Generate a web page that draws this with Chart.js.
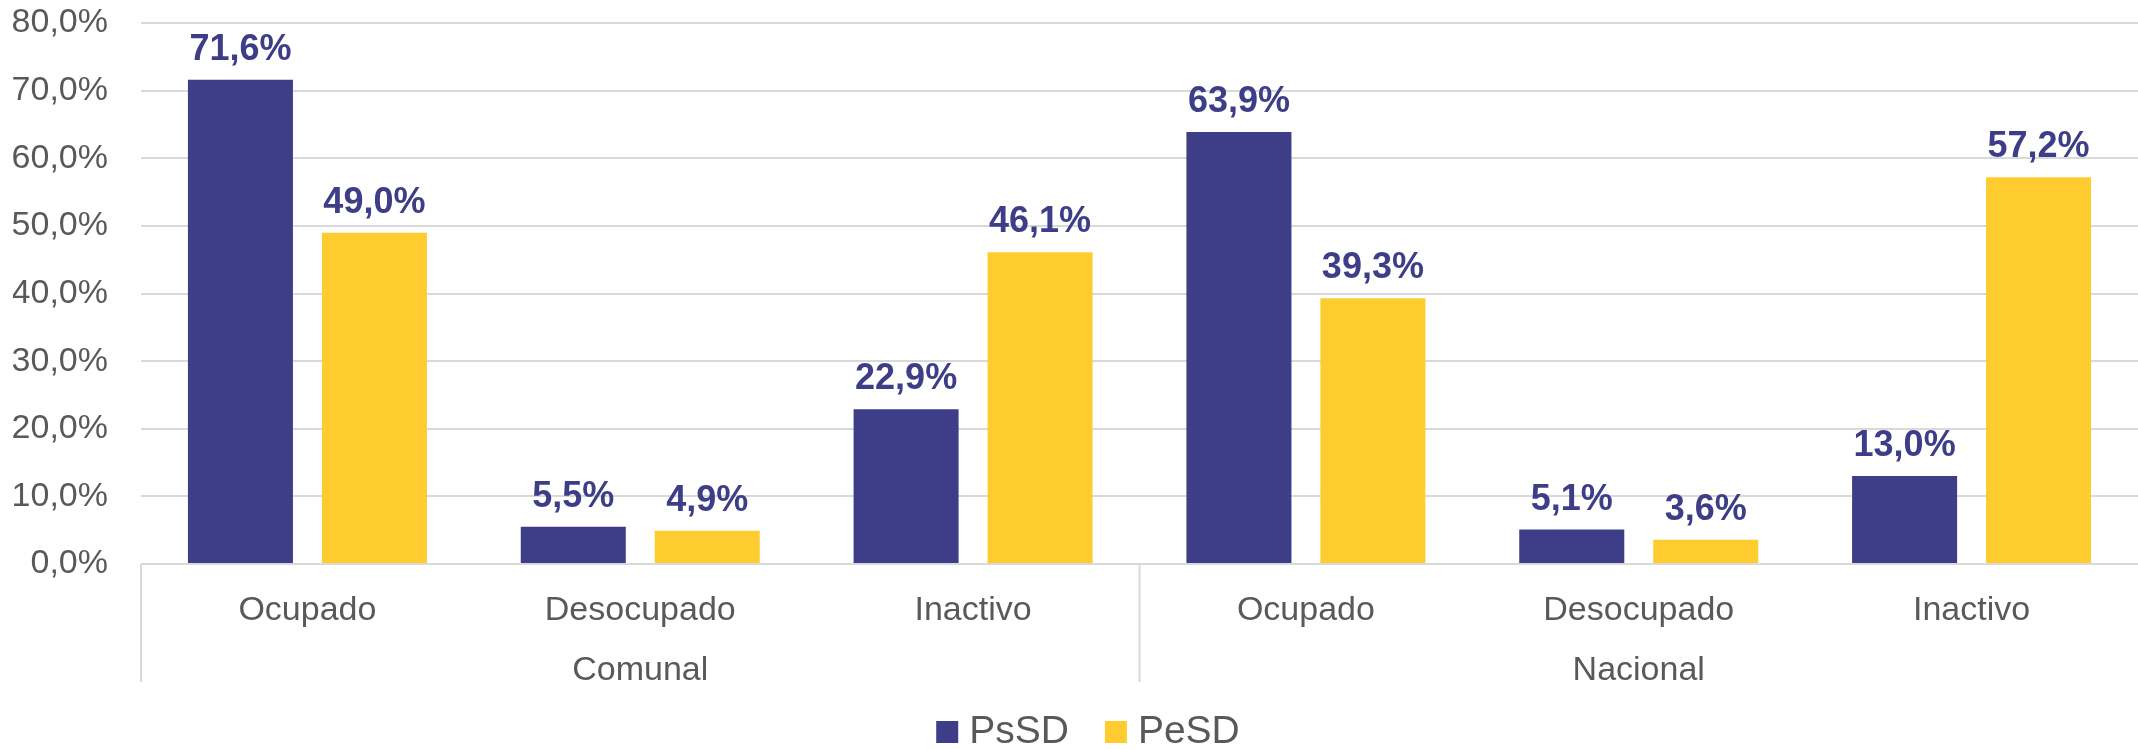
<!DOCTYPE html>
<html lang="es">
<head>
  <meta charset="UTF-8">
  <title>PsSD / PeSD</title>
  <script src="https://cdn.jsdelivr.net/npm/chart.js"></script>
  <style>
    html, body { margin: 0; padding: 0; background: #fff; }
    #wrap { width: 2138px; height: 749px; }
  </style>
</head>
<body>
<div id="wrap"><canvas id="grafico"></canvas></div>

<script>
// datos
const categorias = ["Ocupado", "Desocupado", "Inactivo", "Ocupado", "Desocupado", "Inactivo"];
const grupos = ["Comunal", "Nacional"];
const porGrupo = 3;
const psSD = [71.6, 5.5, 22.9, 63.9, 5.1, 13.0];
const peSD = [49.0, 4.9, 46.1, 39.3, 3.6, 57.2];
const ticksY = [0, 10, 20, 30, 40, 50, 60, 70, 80];

const AZUL = "#3d3e87";
const AMARILLO = "#ffcc2f";
const GRIS = "#595959";
const FUENTE = "'Liberation Sans', Arial, sans-serif";

const fmt = v => v.toFixed(1).replace(".", ",") + "%";

// etiquetas de valor sobre las barras
const etiquetas = {
  id: "etiquetas",
  afterDatasetsDraw(chart) {
    const ctx = chart.ctx;
    ctx.save();
    ctx.font = "bold 36px " + FUENTE;
    ctx.fillStyle = AZUL;
    ctx.textAlign = "center";
    ctx.textBaseline = "alphabetic";
    chart.data.datasets.forEach((ds, i) => {
      chart.getDatasetMeta(i).data.forEach((bar, j) => {
        ctx.fillText(fmt(ds.data[j]), bar.x, bar.y - 20);
      });
    });
    ctx.restore();
  }
};

// separadores y nombres de grupo en el eje x
const gruposX = {
  id: "gruposX",
  afterDraw(chart) {
    const x = chart.scales.x;
    const area = chart.chartArea;
    const ctx = chart.ctx;
    const paso = x.getPixelForValue(1) - x.getPixelForValue(0);
    ctx.save();
    ctx.strokeStyle = "#d9d9d9";
    ctx.lineWidth = 2;
    grupos.forEach((g, k) => {
      const borde = x.getPixelForValue(k * porGrupo) - paso / 2;
      ctx.beginPath();
      ctx.moveTo(borde, area.bottom);
      ctx.lineTo(borde, area.bottom + 118);
      ctx.stroke();
    });
    ctx.font = "34px " + FUENTE;
    ctx.fillStyle = GRIS;
    ctx.textAlign = "center";
    ctx.textBaseline = "middle";
    grupos.forEach((g, k) => {
      const a = x.getPixelForValue(k * porGrupo);
      const b = x.getPixelForValue(k * porGrupo + porGrupo - 1);
      ctx.fillText(g, (a + b) / 2, area.bottom + 107);
    });
    ctx.restore();
  }
};

// leyenda dibujada a mano para respetar los espacios del original
const leyenda = {
  id: "leyenda",
  afterDraw(chart) {
    const ctx = chart.ctx;
    ctx.save();
    ctx.font = "39px " + FUENTE;
    ctx.textBaseline = "alphabetic";
    ctx.textAlign = "left";
    const caja = 22, hueco = 11, sep = 36;
    const items = chart.data.datasets.map(ds => ({ t: ds.label, c: ds.backgroundColor, w: ctx.measureText(ds.label).width }));
    let total = items.reduce((s, it) => s + caja + hueco + it.w, 0) + sep * (items.length - 1);
    let xx = chart.width / 2 + 19 - total / 2;
    const base = chart.height - 6;
    items.forEach(it => {
      ctx.fillStyle = it.c;
      ctx.fillRect(xx, base - caja, caja, caja);
      ctx.fillStyle = GRIS;
      ctx.fillText(it.t, xx + caja + hueco, base);
      xx += caja + hueco + it.w + sep;
    });
    ctx.restore();
  }
};

new Chart(document.getElementById("grafico"), {
  type: "bar",
  data: {
    labels: categorias,
    datasets: [
      { label: "PsSD", data: psSD, backgroundColor: AZUL },
      { label: "PeSD", data: peSD, backgroundColor: AMARILLO }
    ]
  },
  options: {
    responsive: true,
    maintainAspectRatio: false,
    animation: false,
    categoryPercentage: 0.805,
    barPercentage: 0.784,
    layout: { padding: { top: 23, left: 13, right: 0, bottom: 65 } },
    plugins: {
      tooltip: { enabled: false },
      legend: { display: false }
    },
    scales: {
      x: {
        grid: { display: false },
        border: { display: false },
        ticks: { color: GRIS, padding: 18, font: { family: FUENTE, size: 34 }, maxRotation: 0 },
        afterFit(scale) { scale.height = 120; }
      },
      y: {
        min: 0,
        max: 80,
        afterBuildTicks(scale) { scale.ticks = ticksY.map(v => ({ value: v })); },
        afterFit(scale) {
          scale.width = 128;
          scale.paddingTop = 0;
          scale.paddingBottom = 0;
        },
        grid: { color: "#d9d9d9", lineWidth: 2, drawTicks: false },
        border: { display: false },
        ticks: {
          color: GRIS,
          padding: 33,
          font: { family: FUENTE, size: 34 },
          callback: v => fmt(v)
        }
      }
    }
  },
  plugins: [etiquetas, gruposX, leyenda]
});
</script>
</body>
</html>
